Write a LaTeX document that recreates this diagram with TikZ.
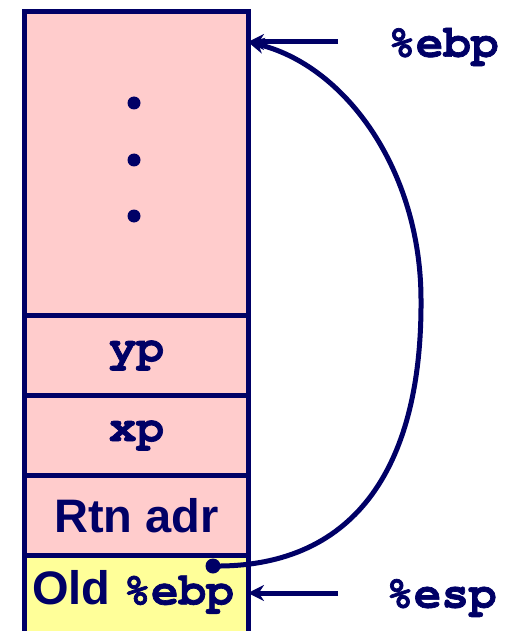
\documentclass[tikz,border=0pt]{standalone}
\usepackage{fontspec}
\setmainfont{Liberation Sans}
\newfontfamily\monof{texgyrecursor}[Extension=.otf, UprightFont=*-bold, BoldFont=*-bold, FakeBold=1.5]
\usetikzlibrary{arrows.meta}
\definecolor{navy}{RGB}{0,0,102}
\definecolor{cellpink}{RGB}{255,204,204}
\definecolor{cellyellow}{RGB}{255,255,153}
\begin{document}
\begin{tikzpicture}[x=1pt,y=-1pt,
  cell/.style={draw=navy, line width=5pt, rectangle, anchor=north west, inner sep=0pt,
    minimum width=224pt, text=navy, font=\fontsize{47}{50}\selectfont\bfseries},
  monotxt/.style={font=\fontsize{46}{50}\selectfont\monof},
  reg/.style={text=navy, monotxt, inner sep=0pt},
  conn/.style={draw=navy, line width=5pt, -{Stealth[length=16pt,width=16pt]}},
  stackdot/.style={circle, fill=navy, inner sep=0pt, minimum size=13pt}]
\useasboundingbox (0,0) rectangle (515,631);
\node[cell, fill=cellpink, minimum height=304pt] (top) at (22,9) {};
\node[cell, fill=cellpink, minimum height=80pt, monotxt] (yp) at (22,313) {yp};
\node[cell, fill=cellpink, minimum height=80pt, monotxt] (xp) at (22,393) {xp};
\node[cell, fill=cellpink, minimum height=80pt] (rtn) at (22,473) {Rtn adr};
\node[cell, fill=cellyellow, minimum height=78pt] (old) at (22,553) {};
\node[text=navy, inner sep=0pt, font=\fontsize{47}{50}\selectfont\bfseries] (oldlbl) at (133,592) {Old {\monof\fontsize{46}{50}\selectfont \%ebp}};
\node[stackdot] (d1) at (134,103) {};
\node[stackdot] (d2) at (134,160) {};
\node[stackdot] (d3) at (134,216) {};
\node[reg, anchor=west] (ebp) at (388,47) {\%ebp};
\node[reg, anchor=west] (esp) at (386,598) {\%esp};
\coordinate (ebptail) at (338,42);
\coordinate (esptail) at (338,593);
\coordinate (ebpcell) at (248,42);
\coordinate (espcell) at (248,593);
\node[stackdot, minimum size=15pt] (oldptr) at (213,566) {};
\draw[conn] (ebptail) -- (ebpcell);
\draw[conn] (esptail) -- (espcell);
\draw[conn] (oldptr.center) .. controls (360,568) and (422,460) .. (421,300)
  .. controls (421,170) and (345,65) .. (ebpcell);
\end{tikzpicture}
\end{document}
